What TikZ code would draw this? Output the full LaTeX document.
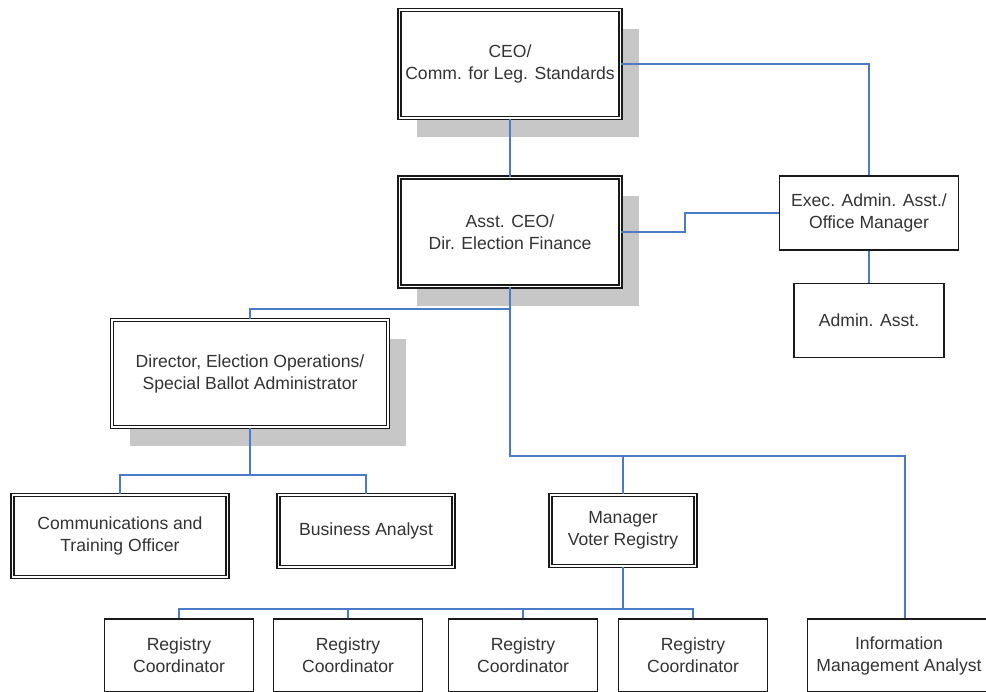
\documentclass[tikz,border=0pt]{standalone}
\usepackage{fontspec}
\setmainfont{Liberation Sans}
\usetikzlibrary{shadows}
\definecolor{orgblue}{RGB}{74,122,200}
\definecolor{boxtext}{gray}{0.2}

\begin{document}
\begin{tikzpicture}[x=0.025cm,y=-0.025cm,font=\fontsize{12.5}{15.6}\selectfont]

\tikzset{plainbox/.style={draw=black!90,line width=.9pt,fill=white,align=center,text=boxtext,inner sep=0pt},
dblbox/.style={plainbox,line width=.8pt,double=white,double distance=1.3pt},
shadowbox/.style={dblbox,drop shadow={shadow xshift=.45cm,shadow yshift=-.475cm,fill=black!22,opacity=1,draw=none}},
regbox/.style={plainbox,minimum width=3.725cm,minimum height=1.825cm},
orgline/.style={draw=orgblue,line width=1.1pt}}

% Page
\path[use as bounding box] (0,0) rectangle (986,691);
\clip (0,0) rectangle (986,691);

% Top level
\node[shadowbox,minimum width=5.525cm,minimum height=2.7cm] (ceo) at (510,64) {CEO/\\Comm. for Leg. Standards};
\node[shadowbox,minimum width=5.525cm,minimum height=2.725cm] (asst) at (510,232) {Asst. CEO/\\Dir. Election Finance};
\node[plainbox,minimum width=4.475cm,minimum height=1.85cm] (exec) at (869,213) {Exec. Admin. Asst./\\Office Manager};
\node[plainbox,minimum width=3.75cm,minimum height=1.85cm] (adm) at (869,320.5) {Admin. Asst.};

% Operations
\node[shadowbox,minimum width=6.9cm,minimum height=2.675cm] (dir) at (250,373.5) {Director, Election Operations/\\Special Ballot Administrator};
\node[dblbox,minimum width=5.375cm,minimum height=2.05cm] (comm) at (120,536) {Communications and\\Training Officer};
\node[dblbox,minimum width=4.375cm,minimum height=1.8cm] (bus) at (366,531) {Business Analyst};

% Voter registry
\node[dblbox,minimum width=3.625cm,minimum height=1.775cm] (mgr) at (623,530.5) {Manager\\Voter Registry};
\node[regbox] (rc1) at (179,655.5) {Registry\\Coordinator};
\node[regbox] (rc2) at (348,655.5) {Registry\\Coordinator};
\node[regbox] (rc3) at (523,655.5) {Registry\\Coordinator};
\node[regbox] (rc4) at (693,655.5) {Registry\\Coordinator};
\node[plainbox,minimum width=4.575cm,minimum height=1.825cm] (info) at (899,655.5) {Information\\Management Analyst};

% Joints
\coordinate (finJoint) at (510,309);
\coordinate (regJoint) at (510,456);
\coordinate (opsJoint) at (250,475);
\coordinate (mgrJoint) at (623,609);

% Lines
\draw[orgline] (ceo) -- (asst);
\draw[orgline] (ceo.east) -| (exec.north);
\draw[orgline] (asst.east) -- ++(64,0) |- (exec.west);
\draw[orgline] (exec) -- (adm);
\draw[orgline] (asst.south) -- (regJoint) -| ([xshift=.15cm]info.north);
\draw[orgline] (finJoint) -| (dir.north);
\draw[orgline] (mgr.north) -- (mgr.north |- regJoint);
\draw[orgline] (dir.south) -- (opsJoint);
\draw[orgline] (comm.north) -- (comm.north |- opsJoint) -| (bus.north);
\draw[orgline] (mgr.south) -- (mgrJoint);
\draw[orgline] (rc1.north) -- (rc1.north |- mgrJoint) -| (rc4.north);
\foreach \n in {2,3} \draw[orgline] (rc\n.north) -- (rc\n.north |- mgrJoint);

\end{tikzpicture}
\end{document}
